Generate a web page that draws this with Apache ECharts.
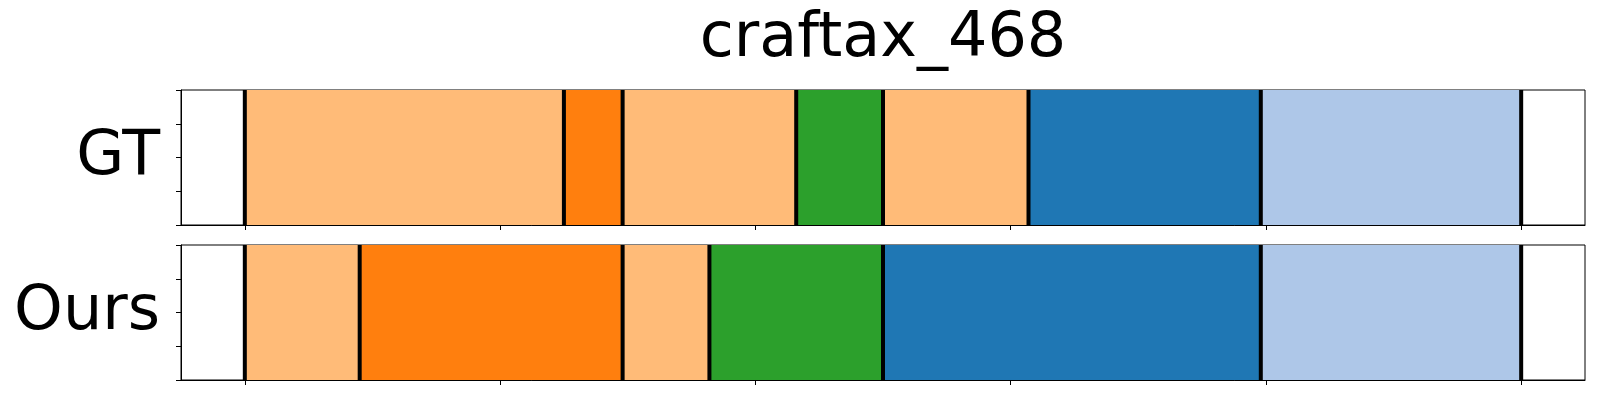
<!DOCTYPE html>
<html>
<head>
<meta charset="utf-8">
<script src="https://cdn.jsdelivr.net/npm/echarts@6/dist/echarts.min.js"></script>
<style>html,body{margin:0;padding:0;background:#fff;}#c{width:1600px;height:400px;}</style>
</head>
<body>
<div id="c"></div>
<script>
// ---- data ----
const title = 'craftax_468';
const rowNames = ['GT', 'Ours'];
// segment boundaries (time steps) and the action class of each segment
const gtBounds = [0, 125, 148, 216, 250, 307, 398, 500];
const gtClasses = [1, 0, 1, 2, 1, 3, 4];
const oursBounds = [0, 45, 148, 182, 250, 398, 500];
const oursClasses = [1, 0, 1, 2, 3, 4];
const xTicks = [0, 100, 200, 300, 400, 500];

// ---- styles ----
const palette = ['#ff7f0e', '#ffbb78', '#2ca02c', '#1f77b4', '#aec7e8'];
const FONT = 'DejaVu Sans';

function segData(bounds, classes) {
  const out = [];
  for (let i = 0; i < classes.length; i++) out.push([bounds[i], bounds[i + 1], classes[i]]);
  return out;
}

const grids = [
  {left: 181, top: 90, width: 1404, height: 135},
  {left: 181, top: 245, width: 1404, height: 135}
].map(g => Object.assign(g, {show: true, borderColor: '#000', borderWidth: 1, containLabel: false}));

const xAxes = [0, 1].map(i => ({
  type: 'value', gridIndex: i, min: -25, max: 525,
  axisLine: {show: true, onZero: false, lineStyle: {color: '#000', width: 1}},
  axisTick: {show: true, inside: false, length: 5, customValues: xTicks, lineStyle: {color: '#000', width: 1}},
  axisLabel: {show: false},
  splitLine: {show: false}
}));

const yAxes = [0, 1].map(i => ({
  type: 'value', gridIndex: i, min: 0, max: 1, interval: 0.25,
  name: rowNames[i], nameLocation: 'middle', nameRotate: 0, nameGap: 21,
  nameTextStyle: {fontFamily: FONT, fontSize: 62, color: '#000', align: 'right', verticalAlign: 'middle'},
  axisLine: {show: true, onZero: false, lineStyle: {color: '#000', width: 1}},
  axisTick: {show: true, inside: false, length: 5, lineStyle: {color: '#000', width: 1}},
  axisLabel: {show: false},
  splitLine: {show: false}
}));

function rectSeries(idx, bounds, classes) {
  return {
    type: 'custom', xAxisIndex: idx, yAxisIndex: idx, silent: true,
    data: segData(bounds, classes),
    renderItem: function (params, api) {
      const a = api.coord([api.value(0), 1]);
      const b = api.coord([api.value(1), 0]);
      return {type: 'rect', shape: {x: a[0], y: a[1], width: b[0] - a[0], height: b[1] - a[1]},
        style: {fill: palette[api.value(2)]}};
    }
  };
}
function lineSeries(idx, bounds) {
  return {
    type: 'custom', xAxisIndex: idx, yAxisIndex: idx, silent: true, z: 5,
    data: bounds.map(b => [b]),
    renderItem: function (params, api) {
      const a = api.coord([api.value(0), 1]);
      const b = api.coord([api.value(0), 0]);
      return {type: 'line', shape: {x1: a[0], y1: a[1], x2: b[0], y2: b[1]},
        style: {stroke: '#000', lineWidth: 4}};
    }
  };
}

const chart = echarts.init(document.getElementById('c'), null, {renderer: 'canvas'});
chart.setOption({
  animation: false,
  backgroundColor: '#fff',
  graphic: [{
    type: 'text', x: 883, y: 71,
    style: {text: title, fontFamily: FONT, fontSize: 62, fill: '#000', textAlign: 'center', textVerticalAlign: 'bottom'}
  }],
  grid: grids,
  xAxis: xAxes,
  yAxis: yAxes,
  series: [
    rectSeries(0, gtBounds, gtClasses), lineSeries(0, gtBounds),
    rectSeries(1, oursBounds, oursClasses), lineSeries(1, oursBounds)
  ]
});
</script>
</body>
</html>
